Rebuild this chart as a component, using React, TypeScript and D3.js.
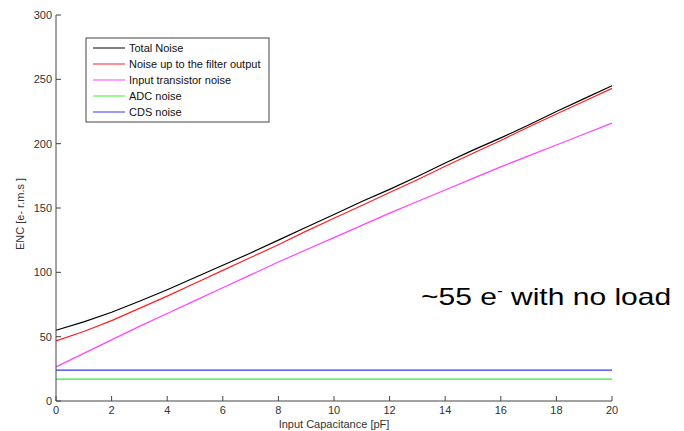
import React from "react";
import * as d3 from "d3";

const capacitance = [0, 1, 2, 3, 4, 5, 6, 7, 8, 9, 10, 11, 12, 13, 14, 15, 16, 17, 18, 19, 20];
const totalNoise = [55, 61.5, 69, 77.5, 86.5, 96, 105.5, 115, 125, 135, 145, 155, 164.5, 174.5, 185, 195, 204.5, 214.5, 225, 235, 245];
const filterNoise = [46.7, 54, 62.5, 72, 81.5, 91.5, 101.5, 111.5, 121.5, 132, 142, 152, 162, 172, 182.5, 192.5, 202.5, 213, 223, 233, 243];
const transistorNoise = [26.5, 37, 47.5, 58, 68, 78, 88, 98, 108, 117.5, 127, 136.5, 146, 155, 164, 173, 182, 190.5, 199, 207.5, 216];
const adcNoise = [17, 17, 17, 17, 17, 17, 17, 17, 17, 17, 17, 17, 17, 17, 17, 17, 17, 17, 17, 17, 17];
const cdsNoise = [24, 24, 24, 24, 24, 24, 24, 24, 24, 24, 24, 24, 24, 24, 24, 24, 24, 24, 24, 24, 24];
const xTicks = [0, 2, 4, 6, 8, 10, 12, 14, 16, 18, 20];
const yTicks = [0, 50, 100, 150, 200, 250, 300];

const series = [
  { name: "Total Noise", values: totalNoise, color: "#000000" },
  { name: "Noise up to the filter output", values: filterNoise, color: "#ff2020" },
  { name: "Input transistor noise", values: transistorNoise, color: "#ff44ff" },
  { name: "ADC noise", values: adcNoise, color: "#33ee33" },
  { name: "CDS noise", values: cdsNoise, color: "#3333ff" },
];

export default function App() {
  const W = 684, H = 431;
  const x = d3.scaleLinear().domain([0, 20]).range([56, 612]);
  const y = d3.scaleLinear().domain([0, 300]).range([401, 15]);
  const line = d3.line<number>().x((_, i) => x(capacitance[i])).y((d) => y(d));
  const font = "'Liberation Sans', Arial, sans-serif";
  const axisColor = "#444";
  return (
    <svg width={W} height={H} style={{ position: "absolute", left: 0, top: 0, background: "#fff" }} fontFamily={font}>
      {series.map((s) => (
        <path key={s.name} d={line(s.values) || ""} fill="none" stroke={s.color} strokeWidth={1.2} />
      ))}
      <line x1={x(0)} x2={x(0)} y1={y(0)} y2={y(300)} stroke={axisColor} strokeWidth={1} />
      <line x1={x(0)} x2={x(20)} y1={y(0)} y2={y(0)} stroke={axisColor} strokeWidth={1} />
      {yTicks.map((t) => (
        <g key={"y" + t}>
          <line x1={x(0)} x2={x(0) + 5} y1={y(t)} y2={y(t)} stroke={axisColor} />
          <text x={x(0) - 4} y={y(t)} dy="0.35em" textAnchor="end" fontSize={11} fill="#333">{t}</text>
        </g>
      ))}
      {xTicks.map((t) => (
        <g key={"x" + t}>
          <line x1={x(t)} x2={x(t)} y1={y(0)} y2={y(0) - 5} stroke={axisColor} />
          <text x={x(t)} y={y(0) + 13} textAnchor="middle" fontSize={11} fill="#333">{t}</text>
        </g>
      ))}
      <text x={(x(0) + x(20)) / 2} y={428} textAnchor="middle" fontSize={11} fill="#333">Input Capacitance [pF]</text>
      <text transform={`translate(24,214) rotate(-90)`} textAnchor="middle" fontSize={11} fill="#333">ENC [e- r.m.s ]</text>
      <rect x={86} y={38} width={183} height={84} fill="#fff" stroke="#444" strokeWidth={1} />
      {series.map((s, i) => {
        const ly = 48 + i * 16;
        return (
          <g key={"l" + s.name}>
            <line x1={93} x2={125} y1={ly} y2={ly} stroke={s.color} strokeWidth={1} />
            <text x={129} y={ly} dy="0.35em" fontSize={11} fill="#111">{s.name}</text>
          </g>
        );
      })}
      <text transform="translate(421,305) scale(1.25,1)" fontSize={24} fill="#000">
        ~55 e<tspan dy={-9} fontSize={14}>-</tspan><tspan dy={9}> with no load</tspan>
      </text>
    </svg>
  );
}
